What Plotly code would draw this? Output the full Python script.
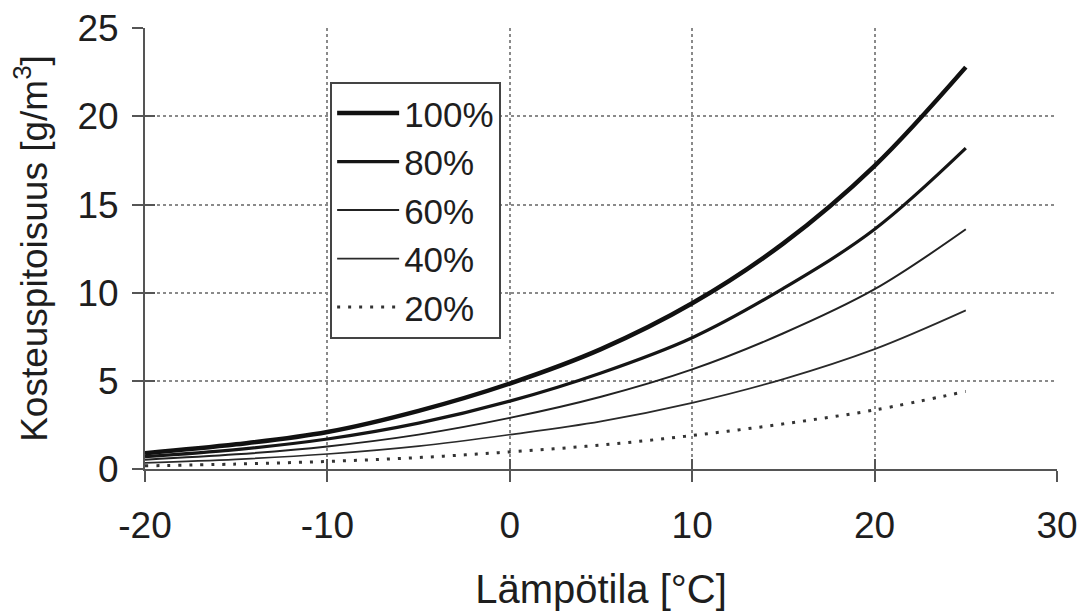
import plotly.graph_objects as go

temps = [-20, -15, -10, -5, 0, 5, 10, 15, 20, 25]
rh100 = [0.9, 1.4, 2.1, 3.3, 4.85, 6.8, 9.4, 12.8, 17.2, 22.8]
rh80 = [0.7, 1.1, 1.7, 2.6, 3.85, 5.45, 7.45, 10.25, 13.6, 18.2]
rh60 = [0.53, 0.83, 1.28, 1.95, 2.9, 4.1, 5.65, 7.7, 10.2, 13.6]
rh40 = [0.35, 0.55, 0.85, 1.3, 1.95, 2.7, 3.75, 5.1, 6.8, 9.0]
rh20 = [0.18, 0.28, 0.43, 0.65, 0.97, 1.36, 1.9, 2.56, 3.35, 4.4]

series_names = ["100%", "80%", "60%", "40%", "20%"]
series_vals = [rh100, rh80, rh60, rh40, rh20]
widths = [4.5, 3.2, 2.0, 1.7, 3.0]
dashes = ["solid", "solid", "solid", "solid", "3px,8px"]
colors = ["#111111", "#151515", "#222222", "#2a2a2a", "#333333"]

x_ticks = [-20, -10, 0, 10, 20, 30]
y_ticks = [0, 5, 10, 15, 20, 25]

FONT = "Liberation Sans, Arial, sans-serif"
TXT = "#1e1e1e"

fig = go.Figure()
for name, vals, w, d, c in zip(series_names, series_vals, widths, dashes, colors):
    fig.add_trace(go.Scatter(
        x=temps, y=vals, mode="lines", name=name,
        line=dict(color=c, width=w, dash=d, shape="spline", smoothing=1.0),
    ))

# invisible trace to host the overlay axes (inside tick marks)
fig.add_trace(go.Scatter(x=[], y=[], xaxis="x2", yaxis="y2", showlegend=False))

axis_common = dict(
    showline=True, linecolor="#555555", linewidth=2,
    ticks="outside", ticklen=11, tickwidth=2, tickcolor="#555555",
    zeroline=False, automargin=False, ticklabeloverflow="allow",
    showgrid=True, gridcolor="#8a8a8a", gridwidth=1.5, griddash="dot",
)

# page body adds an 8px offset, so the figure is sized to fit the window
fig.update_layout(
    width=1080, height=607,
    paper_bgcolor="white", plot_bgcolor="white",
    margin=dict(l=137, r=31, t=20, b=146),
    font=dict(family=FONT, color=TXT),
    xaxis=dict(axis_common, range=[-20, 30], tickvals=x_ticks,
               ticktext=[str(v) for v in x_ticks],
               tickfont=dict(family=FONT, size=37, color=TXT),
               ticklabelstandoff=12,
               title=dict(text="Lämpötila [°C]", standoff=30,
                          font=dict(family=FONT, size=40, color=TXT))),
    yaxis=dict(axis_common, range=[0, 25.02], tickvals=y_ticks,
               ticktext=[str(v) for v in y_ticks],
               tickfont=dict(family=FONT, size=37, color=TXT),
               ticklabelstandoff=6,
               title=dict(text="Kosteuspitoisuus [g/m<sup>3</sup>]", standoff=20,
                          font=dict(family=FONT, size=37, color=TXT))),
    xaxis2=dict(overlaying="x", anchor="y2", range=[-20, 30], tickvals=x_ticks,
                ticks="inside", ticklen=10, tickwidth=2, tickcolor="#555555",
                showticklabels=False, showgrid=False, zeroline=False, showline=False),
    yaxis2=dict(overlaying="y", anchor="x2", range=[0, 25.02], tickvals=y_ticks,
                ticks="inside", ticklen=10, tickwidth=2, tickcolor="#555555",
                showticklabels=False, showgrid=False, zeroline=False, showline=False),
    legend=dict(
        x=0.203, y=0.878, xanchor="left", yanchor="top",
        bgcolor="white", bordercolor="#444444", borderwidth=2,
        font=dict(family=FONT, size=35, color=TXT),
        itemwidth=62, tracegroupgap=0,
    ),
    showlegend=True,
)

fig.write_html("out.html")
